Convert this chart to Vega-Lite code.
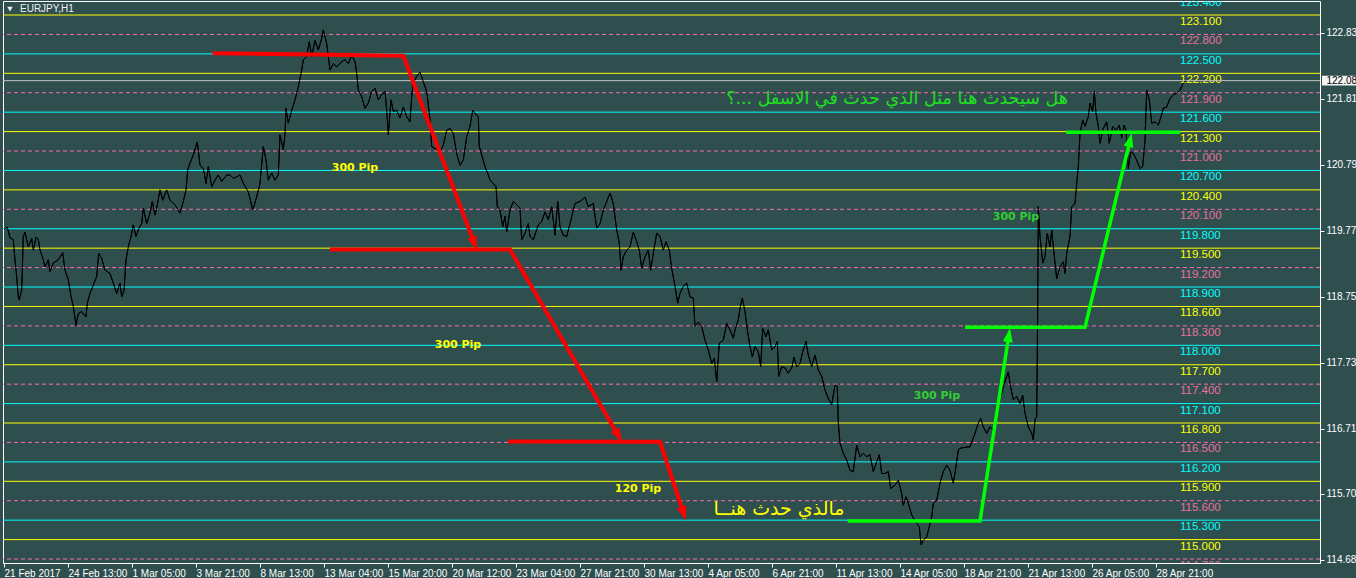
{
  "$schema": "https://vega.github.io/schema/vega-lite/v6.json",
  "width": 1317,
  "height": 562,
  "autosize": {"type": "none"},
  "padding": {"left": 3, "top": 1, "right": 36, "bottom": 15},
  "background": "#2F4F4F",
  "config": {"view": {"stroke": "#FFFFFF", "strokeWidth": 1}, "font": "Liberation Sans"},
  "datasets": {
    "price": [
      {"i":0,"p":119.79},{"i":3.3,"p":119.82},{"i":6,"p":119.66},{"i":9.3,"p":119.63},{"i":11,"p":119.32},{"i":12.7,"p":119.06},{"i":14.3,"p":118.75},{"i":15.3,"p":118.70},{"i":17.7,"p":118.85},{"i":19.3,"p":119.68},{"i":21,"p":119.75},{"i":24.3,"p":119.52},{"i":27.7,"p":119.65},{"i":29.3,"p":119.47},{"i":32,"p":119.67},{"i":34.3,"p":119.63},{"i":36,"p":119.47},{"i":39.3,"p":119.32},{"i":41,"p":119.21},{"i":44.3,"p":119.32},{"i":46,"p":119.14},{"i":49.3,"p":119.27},{"i":54.3,"p":119.32},{"i":58.7,"p":119.43},{"i":61,"p":119.16},{"i":64.3,"p":119.01},{"i":66.7,"p":118.78},{"i":69.3,"p":118.60},{"i":72,"p":118.31},{"i":74.3,"p":118.49},{"i":77.7,"p":118.52},{"i":82,"p":118.44},{"i":83.3,"p":118.65},{"i":86,"p":118.80},{"i":89.3,"p":118.93},{"i":92.7,"p":119.06},{"i":94.7,"p":119.42},{"i":97.7,"p":119.34},{"i":101,"p":119.16},{"i":106,"p":119.11},{"i":109.3,"p":118.96},{"i":112.7,"p":118.80},{"i":116,"p":118.96},{"i":117.7,"p":118.75},{"i":120,"p":118.85},{"i":122,"p":119.32},{"i":124.3,"p":119.52},{"i":127,"p":119.68},{"i":129.3,"p":119.86},{"i":132,"p":119.68},{"i":135.3,"p":119.82},{"i":137.7,"p":119.88},{"i":139.3,"p":120.12},{"i":142.7,"p":119.88},{"i":146,"p":120.04},{"i":148.3,"p":120.22},{"i":151,"p":120.01},{"i":152.7,"p":120.12},{"i":156,"p":120.40},{"i":158.7,"p":120.24},{"i":162.7,"p":120.40},{"i":166,"p":120.24},{"i":171,"p":120.17},{"i":176,"p":120.04},{"i":179.3,"p":120.22},{"i":182,"p":120.40},{"i":183.7,"p":120.71},{"i":186,"p":120.81},{"i":189.3,"p":120.94},{"i":193.3,"p":121.14},{"i":196,"p":120.78},{"i":199.3,"p":120.73},{"i":202,"p":120.50},{"i":204.3,"p":120.76},{"i":207.7,"p":120.45},{"i":211,"p":120.55},{"i":214.3,"p":120.63},{"i":217.7,"p":120.53},{"i":222.7,"p":120.63},{"i":226,"p":120.63},
      {"i":229.3,"p":120.58},{"i":232.7,"p":120.60},{"i":236,"p":120.63},{"i":239.3,"p":120.50},{"i":244.3,"p":120.37},{"i":248.7,"p":120.09},{"i":252.7,"p":120.29},{"i":256,"p":120.50},{"i":259.3,"p":121.07},{"i":262,"p":120.86},{"i":264.3,"p":120.55},{"i":267.7,"p":120.66},{"i":271,"p":120.55},{"i":274.3,"p":120.63},{"i":276,"p":121.25},{"i":279.3,"p":121.02},{"i":281,"p":121.27},{"i":282,"p":121.66},{"i":284.3,"p":121.43},{"i":287.7,"p":121.63},{"i":291,"p":121.79},{"i":294.3,"p":121.99},{"i":297.7,"p":122.25},{"i":299.3,"p":122.41},{"i":302.7,"p":122.46},{"i":305.3,"p":122.69},{"i":307.7,"p":122.46},{"i":311,"p":122.71},{"i":314.3,"p":122.56},{"i":317.7,"p":122.74},{"i":319.3,"p":122.87},{"i":322.7,"p":122.66},{"i":326,"p":122.25},{"i":329.3,"p":122.35},{"i":332.7,"p":122.30},{"i":337.7,"p":122.38},{"i":341,"p":122.41},{"i":344.3,"p":122.35},{"i":347.7,"p":122.48},{"i":351,"p":122.38},{"i":352.7,"p":122.20},{"i":354.3,"p":121.94},{"i":357.7,"p":121.84},{"i":361,"p":121.66},{"i":364.3,"p":121.74},{"i":367.7,"p":121.92},{"i":371,"p":121.97},{"i":374.3,"p":121.79},{"i":377.7,"p":121.87},{"i":381,"p":121.92},{"i":382.7,"p":121.63},{"i":384.3,"p":121.25},{"i":387,"p":121.79},{"i":389.3,"p":121.61},{"i":392.7,"p":121.63},{"i":396,"p":121.51},{"i":399.3,"p":121.68},{"i":402.7,"p":121.53},{"i":406,"p":121.45},{"i":407.7,"p":121.84},{"i":409.3,"p":122.05},{"i":412.7,"p":122.15},{"i":416,"p":122.22},{"i":419.3,"p":122.07},{"i":422.7,"p":121.92},{"i":426,"p":121.48},{"i":427.7,"p":121.07},{"i":432.7,"p":121.02},{"i":436,"p":120.99},{"i":439.3,"p":121.09},{"i":442.7,"p":121.32},{"i":446,"p":121.35},{"i":449.3,"p":121.27},{"i":452.7,"p":120.96},{"i":456,"p":120.78},{"i":459.3,"p":120.86},{"i":462.7,"p":121.22},{"i":466,"p":121.38},{"i":468.7,"p":121.63},{"i":471,"p":121.58},{"i":474.3,"p":121.53},{"i":475.3,"p":121.07},{"i":477.7,"p":120.94},{"i":481,"p":120.76},
      {"i":484.3,"p":120.63},{"i":486,"p":120.55},{"i":489.3,"p":120.50},{"i":492,"p":120.45},{"i":493.3,"p":120.14},{"i":496,"p":120.09},{"i":498.7,"p":119.83},{"i":501,"p":119.99},{"i":502.7,"p":119.75},{"i":506,"p":120.09},{"i":509.3,"p":120.22},{"i":512.7,"p":120.17},{"i":516,"p":120.12},{"i":517.7,"p":119.63},{"i":521,"p":119.73},{"i":524.3,"p":119.88},{"i":526,"p":119.68},{"i":529.3,"p":119.63},{"i":534.3,"p":119.86},{"i":537.7,"p":119.91},{"i":541,"p":120.06},{"i":544.3,"p":119.94},{"i":547.7,"p":120.14},{"i":551,"p":119.70},{"i":553.7,"p":120.22},{"i":556,"p":119.83},{"i":559.3,"p":119.70},{"i":562.7,"p":119.68},{"i":566,"p":119.88},{"i":571,"p":120.19},{"i":576,"p":120.22},{"i":581,"p":120.29},{"i":584.3,"p":120.14},{"i":589.3,"p":120.19},{"i":592.7,"p":119.81},{"i":596,"p":119.88},{"i":599.3,"p":120.09},{"i":602.7,"p":120.22},{"i":606,"p":120.35},{"i":609.3,"p":120.19},{"i":612.7,"p":119.78},{"i":615.3,"p":119.58},{"i":617,"p":119.16},{"i":619.3,"p":119.37},{"i":622.7,"p":119.47},{"i":626,"p":119.52},{"i":629.3,"p":119.75},{"i":632.7,"p":119.60},{"i":635.3,"p":119.47},{"i":637.7,"p":119.19},{"i":641,"p":119.37},{"i":644.3,"p":119.47},{"i":646.7,"p":119.16},{"i":649.3,"p":119.42},{"i":652.7,"p":119.73},{"i":656,"p":119.68},{"i":659.3,"p":119.47},{"i":662,"p":119.60},{"i":665.3,"p":119.47},{"i":667.7,"p":119.19},{"i":671,"p":118.91},{"i":673.7,"p":118.65},{"i":676,"p":118.80},{"i":679.3,"p":118.91},{"i":682.7,"p":118.96},{"i":686,"p":118.75},{"i":689.3,"p":118.73},{"i":691,"p":118.29},{"i":694.3,"p":118.36},{"i":697.7,"p":118.29},{"i":701,"p":118.08},{"i":704.3,"p":117.93},{"i":707.7,"p":117.72},{"i":710.3,"p":117.80},{"i":712.7,"p":117.44},{"i":715.3,"p":118.03},
      {"i":719.3,"p":118.08},{"i":722.7,"p":118.34},{"i":726,"p":118.24},{"i":729.3,"p":118.11},{"i":731,"p":118.24},{"i":734.3,"p":118.39},{"i":736,"p":118.57},{"i":738.3,"p":118.73},{"i":741,"p":118.52},{"i":743.3,"p":118.24},{"i":746,"p":117.98},{"i":748.3,"p":117.82},{"i":751,"p":117.98},{"i":754.3,"p":117.90},{"i":756.7,"p":117.67},{"i":758.7,"p":118.26},{"i":762,"p":118.13},{"i":764.3,"p":118.24},{"i":767.7,"p":117.93},{"i":771,"p":117.98},{"i":773.3,"p":118.06},{"i":774.7,"p":117.52},{"i":777.7,"p":117.67},{"i":781,"p":117.65},{"i":784.3,"p":117.57},{"i":787.7,"p":117.65},{"i":790,"p":117.82},{"i":792.7,"p":117.67},{"i":796,"p":117.72},{"i":798.7,"p":117.90},{"i":802,"p":118.06},{"i":804.3,"p":117.85},{"i":807.7,"p":117.67},{"i":811,"p":117.85},{"i":814.3,"p":117.62},{"i":817.7,"p":117.52},{"i":821,"p":117.31},{"i":824.3,"p":117.18},{"i":827.7,"p":117.08},{"i":831,"p":117.39},{"i":833.3,"p":117.36},{"i":834.3,"p":116.80},{"i":836,"p":116.49},{"i":839.3,"p":116.33},{"i":842.7,"p":116.23},{"i":846,"p":116.07},{"i":849.3,"p":116.05},{"i":852.7,"p":116.46},{"i":856,"p":116.28},{"i":859.3,"p":116.33},{"i":862.7,"p":116.28},{"i":866,"p":116.31},{"i":869.3,"p":116.05},{"i":872.7,"p":116.20},{"i":875.3,"p":116.31},{"i":877.7,"p":116.02},{"i":881,"p":116.02},{"i":884.3,"p":116.05},{"i":886.7,"p":115.79},{"i":891,"p":115.84},{"i":894.3,"p":115.92},{"i":897.7,"p":115.71},{"i":899.3,"p":115.53},{"i":902,"p":115.66},{"i":904.3,"p":115.56},{"i":907.7,"p":115.38},{"i":912.7,"p":115.25},{"i":915.3,"p":115.20},{"i":917,"p":114.92},{"i":919.3,"p":114.99},{"i":922.7,"p":115.04},{"i":925.3,"p":115.20},{"i":927.7,"p":115.35},{"i":929.3,"p":115.56},{"i":932.7,"p":115.61},{"i":936,"p":115.87},{"i":939.3,"p":116.05},{"i":942.7,"p":116.15},{"i":946,"p":116.07},{"i":949.3,"p":115.87},{"i":952,"p":116.13},{"i":954.3,"p":116.38},
      {"i":956,"p":116.41},{"i":962.7,"p":116.43},{"i":966,"p":116.43},{"i":971,"p":116.64},{"i":974.3,"p":116.80},{"i":976.7,"p":116.87},{"i":979.3,"p":116.74},{"i":982.7,"p":116.64},{"i":986,"p":116.74},{"i":989.3,"p":116.69},{"i":992.7,"p":116.85},{"i":996,"p":117.16},{"i":999.3,"p":117.36},{"i":1002.7,"p":117.52},{"i":1004.3,"p":117.59},{"i":1006,"p":117.41},{"i":1009.3,"p":117.16},{"i":1012.7,"p":117.21},{"i":1016,"p":117.10},{"i":1018.7,"p":117.23},{"i":1021,"p":116.95},{"i":1024.3,"p":116.74},{"i":1027.7,"p":116.64},{"i":1029.3,"p":116.54},{"i":1031,"p":116.85},{"i":1032.7,"p":116.90},{"i":1033.7,"p":118.55},{"i":1034.3,"p":120.14},{"i":1036,"p":119.68},{"i":1038.7,"p":119.27},{"i":1041,"p":119.37},{"i":1043.3,"p":119.73},{"i":1046,"p":119.52},{"i":1047.7,"p":119.78},{"i":1050,"p":119.42},{"i":1052.7,"p":119.03},{"i":1056,"p":119.21},{"i":1059.3,"p":119.29},{"i":1061,"p":119.11},{"i":1062.7,"p":119.42},{"i":1066,"p":119.68},{"i":1067.7,"p":120.14},{"i":1071,"p":120.19},{"i":1072.7,"p":120.50},{"i":1074.3,"p":120.76},{"i":1076,"p":121.27},{"i":1078.7,"p":121.48},{"i":1081,"p":121.38},{"i":1084.3,"p":121.53},{"i":1086,"p":121.74},{"i":1088.7,"p":121.61},{"i":1090.3,"p":121.92},{"i":1092,"p":121.58},{"i":1094.3,"p":121.38},{"i":1096,"p":121.12},{"i":1099.3,"p":121.35},{"i":1102.7,"p":121.45},{"i":1105.3,"p":121.12},{"i":1108.7,"p":121.38},{"i":1112,"p":121.32},{"i":1115.3,"p":121.40},{"i":1117.7,"p":121.20},{"i":1120,"p":121.40},{"i":1122,"p":121.32},{"i":1124.3,"p":120.73},{"i":1126.7,"p":120.99},{"i":1129.3,"p":120.96},{"i":1132.7,"p":120.86},{"i":1136,"p":120.73},{"i":1138.7,"p":120.76},{"i":1141,"p":121.17},{"i":1142.7,"p":121.94},{"i":1145.3,"p":121.79},{"i":1147.7,"p":121.43},{"i":1151,"p":121.45},{"i":1154.3,"p":121.40},{"i":1157,"p":121.53},{"i":1159.3,"p":121.66},{"i":1162.7,"p":121.68},{"i":1166,"p":121.81},{"i":1169.3,"p":121.87},{"i":1172.7,"p":121.89},{"i":1176,"p":121.94},{"i":1179.3,"p":122.05},{"i":1182,"p":122.087}
    ],
    "levels": [
      {"p":123.1,"k":"y"},{"p":122.2,"k":"y"},{"p":121.3,"k":"y"},{"p":120.4,"k":"y"},{"p":119.5,"k":"y"},{"p":118.6,"k":"y"},{"p":117.7,"k":"y"},{"p":116.8,"k":"y"},{"p":115.9,"k":"y"},{"p":115.0,"k":"y"},
      {"p":123.4,"k":"c"},{"p":122.5,"k":"c"},{"p":121.6,"k":"c"},{"p":120.7,"k":"c"},{"p":119.8,"k":"c"},{"p":118.9,"k":"c"},{"p":118.0,"k":"c"},{"p":117.1,"k":"c"},{"p":116.2,"k":"c"},{"p":115.3,"k":"c"},
      {"p":122.8,"k":"m"},{"p":121.9,"k":"m"},{"p":121.0,"k":"m"},{"p":120.1,"k":"m"},{"p":119.2,"k":"m"},{"p":118.3,"k":"m"},{"p":117.4,"k":"m"},{"p":116.5,"k":"m"},{"p":115.6,"k":"m"},{"p":114.7,"k":"m"}
    ],
    "arrows": [
      {"c":"red","g":"r1","o":0,"i":208.7,"p":122.51},{"c":"red","g":"r1","o":1,"i":399.3,"p":122.47},{"c":"red","g":"r1","o":2,"i":470.5,"p":119.57},
      {"c":"red","g":"r2","o":0,"i":326,"p":119.48},{"c":"red","g":"r2","o":1,"i":506,"p":119.48},{"c":"red","g":"r2","o":2,"i":614.5,"p":116.60},
      {"c":"red","g":"r3","o":0,"i":504,"p":116.515},{"c":"red","g":"r3","o":1,"i":656,"p":116.51},{"c":"red","g":"r3","o":2,"i":679.8,"p":115.40},
      {"c":"green","g":"g1","o":0,"i":843.7,"p":115.287},{"c":"green","g":"g1","o":1,"i":976,"p":115.287},{"c":"green","g":"g1","o":2,"i":1004.9,"p":118.16},
      {"c":"green","g":"g2","o":0,"i":961,"p":118.278},{"c":"green","g":"g2","o":1,"i":1081,"p":118.278},{"c":"green","g":"g2","o":2,"i":1126.1,"p":121.17},
      {"c":"green","g":"g3","o":0,"i":1062,"p":121.289},{"c":"green","g":"g3","o":1,"i":1176,"p":121.289}
    ],
    "notes": [
      {"t":"300 Pip","i":351,"p":120.738,"k":"pipY"},
      {"t":"300 Pip","i":454,"p":118.005,"k":"pipY"},
      {"t":"120 Pip","i":634,"p":115.781,"k":"pipY"},
      {"t":"300  Pip","i":933,"p":117.217,"k":"pipG"},
      {"t":"300 Pip","i":1012,"p":119.981,"k":"pipG"},
      {"t":"مالذي حدث هنــا","i":775,"p":115.472,"k":"arY"},
      {"t":"هل سيحدث هنا مثل الذي حدث في الاسفل ...؟","i":893,"p":121.803,"k":"arG"}
    ],
    "one": [{"n": 1}]
  },
  "layer": [
    {
      "data": {"name": "price"},
      "mark": {"type": "line", "color": "#000000", "strokeWidth": 1, "clip": true},
      "encoding": {
        "x": {"field": "i", "type": "quantitative", "title": null,
          "scale": {"domain": [-1, 1316], "nice": false, "zero": false},
          "axis": {"values": [0,64,128,192,256,320,384,448,512,576,640,704,768,832,896,960,1024,1088,1152],
            "labelExpr": "['21 Feb 2017','24 Feb 13:00','1 Mar 05:00','3 Mar 21:00','8 Mar 13:00','13 Mar 04:00','15 Mar 20:00','20 Mar 12:00','23 Mar 04:00','27 Mar 21:00','30 Mar 13:00','4 Apr 05:00','6 Apr 21:00','11 Apr 13:00','14 Apr 05:00','18 Apr 21:00','21 Apr 13:00','26 Apr 05:00','28 Apr 21:00'][round(datum.value/64)]",
            "labelAlign": "left", "labelBaseline": "top", "labelPadding": 1, "labelColor": "#FFFFFF",
            "labelFont": "Liberation Sans", "labelFontSize": 10, "tickColor": "#FFFFFF", "tickSize": 4,
            "domain": false, "grid": false, "labelFlush": false, "labelOverlap": false, "labelBound": false}},
        "y": {"field": "p", "type": "quantitative", "title": null,
          "scale": {"domain": [114.6386, 123.3166], "nice": false, "zero": false},
          "axis": {"orient": "right",
            "values": [114.685,115.195,115.705,116.215,116.71,117.22,117.73,118.24,118.75,119.26,119.77,120.28,120.79,121.3,121.81,122.32,122.83],
            "format": ".3f", "labelColor": "#FFFFFF", "labelFont": "Liberation Sans", "labelFontSize": 10,
            "tickColor": "#FFFFFF", "tickSize": 4, "labelPadding": 2, "domain": false, "grid": false,
            "labelFlush": false, "labelOverlap": false, "labelBound": false}}
      }
    },
    {
      "data": {"name": "levels"},
      "transform": [{"filter": "datum.k === 'y'"}],
      "mark": {"type": "rule", "color": "#FFFF00", "strokeWidth": 1, "clip": true},
      "encoding": {"y": {"field": "p", "type": "quantitative", "title": null}}
    },
    {
      "data": {"name": "levels"},
      "transform": [{"filter": "datum.k === 'c'"}],
      "mark": {"type": "rule", "color": "#00FFFF", "strokeWidth": 1, "clip": true},
      "encoding": {"y": {"field": "p", "type": "quantitative", "title": null}}
    },
    {
      "data": {"name": "levels"},
      "transform": [{"filter": "datum.k === 'm'"}],
      "mark": {"type": "rule", "color": "#FF69B4", "strokeWidth": 1, "strokeDash": [4, 3], "clip": true},
      "encoding": {"y": {"field": "p", "type": "quantitative", "title": null}}
    },
    {
      "data": {"name": "levels"},
      "mark": {"type": "text", "align": "left", "baseline": "middle", "dy": 7, "font": "Liberation Sans", "fontSize": 11.5, "clip": true},
      "encoding": {
        "x": {"datum": 1176, "title": null},
        "y": {"field": "p", "type": "quantitative", "title": null},
        "text": {"field": "p", "type": "quantitative", "format": ".3f"},
        "color": {"field": "k", "type": "nominal", "legend": null,
          "scale": {"domain": ["y", "c", "m"], "range": ["#FFFF00", "#00FFFF", "#E8709C"]}}
      }
    },
    {
      "data": {"values": [{"p": 122.087}]},
      "mark": {"type": "rule", "color": "#C0C0C0", "strokeWidth": 1},
      "encoding": {"y": {"field": "p", "type": "quantitative", "title": null}}
    },
    {
      "data": {"name": "price"},
      "mark": {"type": "line", "color": "#000000", "strokeWidth": 1, "clip": true},
      "encoding": {
        "x": {"field": "i", "type": "quantitative", "title": null},
        "y": {"field": "p", "type": "quantitative", "title": null}
      }
    },
    {
      "data": {"name": "arrows"},
      "transform": [{"filter": "datum.c === 'red'"}],
      "mark": {"type": "line", "color": "#FF0000", "strokeWidth": 4, "strokeJoin": "miter"},
      "encoding": {
        "x": {"field": "i", "type": "quantitative", "title": null},
        "y": {"field": "p", "type": "quantitative", "title": null},
        "detail": {"field": "g"},
        "order": {"field": "o"}
      }
    },
    {
      "data": {"name": "arrows"},
      "transform": [{"filter": "datum.c === 'green'"}],
      "mark": {"type": "line", "color": "#00FF00", "strokeWidth": 3.5, "strokeJoin": "miter"},
      "encoding": {
        "x": {"field": "i", "type": "quantitative", "title": null},
        "y": {"field": "p", "type": "quantitative", "title": null},
        "detail": {"field": "g"},
        "order": {"field": "o"}
      }
    },
    {
      "data": {"name": "one"},
      "mark": {"type": "point", "shape": "M0,-1L0.7,1L-0.7,1Z", "filled": true, "color": "#FF0000", "opacity": 1, "size": 200, "angle": 159.2},
      "encoding": {"x": {"datum": 470.5, "title": null}, "y": {"datum": 119.57, "title": null}}
    },
    {
      "data": {"name": "one"},
      "mark": {"type": "point", "shape": "M0,-1L0.7,1L-0.7,1Z", "filled": true, "color": "#FF0000", "opacity": 1, "size": 200, "angle": 149.8},
      "encoding": {"x": {"datum": 614.5, "title": null}, "y": {"datum": 116.60, "title": null}}
    },
    {
      "data": {"name": "one"},
      "mark": {"type": "point", "shape": "M0,-1L0.7,1L-0.7,1Z", "filled": true, "color": "#FF0000", "opacity": 1, "size": 200, "angle": 161.6},
      "encoding": {"x": {"datum": 679.8, "title": null}, "y": {"datum": 115.40, "title": null}}
    },
    {
      "data": {"name": "one"},
      "mark": {"type": "point", "shape": "M0,-1L0.7,1L-0.7,1Z", "filled": true, "color": "#00FF00", "opacity": 1, "size": 200, "angle": 8.9},
      "encoding": {"x": {"datum": 1004.9, "title": null}, "y": {"datum": 118.16, "title": null}}
    },
    {
      "data": {"name": "one"},
      "mark": {"type": "point", "shape": "M0,-1L0.7,1L-0.7,1Z", "filled": true, "color": "#00FF00", "opacity": 1, "size": 200, "angle": 13.5},
      "encoding": {"x": {"datum": 1126.1, "title": null}, "y": {"datum": 121.17, "title": null}}
    },
    {
      "data": {"name": "notes"},
      "transform": [{"filter": "datum.k === 'pipY'"}],
      "mark": {"type": "text", "align": "center", "baseline": "middle", "font": "DejaVu Sans", "fontWeight": "bold", "fontSize": 11, "color": "#FFFF00"},
      "encoding": {
        "x": {"field": "i", "type": "quantitative", "title": null},
        "y": {"field": "p", "type": "quantitative", "title": null},
        "text": {"field": "t"}
      }
    },
    {
      "data": {"name": "notes"},
      "transform": [{"filter": "datum.k === 'pipG'"}],
      "mark": {"type": "text", "align": "center", "baseline": "middle", "font": "DejaVu Sans", "fontWeight": "bold", "fontSize": 11, "color": "#32CD32"},
      "encoding": {
        "x": {"field": "i", "type": "quantitative", "title": null},
        "y": {"field": "p", "type": "quantitative", "title": null},
        "text": {"field": "t"}
      }
    },
    {
      "data": {"name": "notes"},
      "transform": [{"filter": "datum.k === 'arY'"}],
      "mark": {"type": "text", "align": "center", "baseline": "middle", "font": "DejaVu Sans", "fontSize": 19, "color": "#FFFF00"},
      "encoding": {
        "x": {"field": "i", "type": "quantitative", "title": null},
        "y": {"field": "p", "type": "quantitative", "title": null},
        "text": {"field": "t"}
      }
    },
    {
      "data": {"name": "notes"},
      "transform": [{"filter": "datum.k === 'arG'"}],
      "mark": {"type": "text", "align": "center", "baseline": "middle", "font": "DejaVu Sans", "fontSize": 17.5, "color": "#1EE01E"},
      "encoding": {
        "x": {"field": "i", "type": "quantitative", "title": null},
        "y": {"field": "p", "type": "quantitative", "title": null},
        "text": {"field": "t"}
      }
    },
    {
      "data": {"name": "one"},
      "mark": {"type": "point", "shape": "triangle-down", "filled": true, "color": "#F0F0F0", "opacity": 1, "size": 30},
      "encoding": {"x": {"datum": 6, "title": null}, "y": {"datum": 123.19, "title": null}}
    },
    {
      "data": {"name": "one"},
      "mark": {"type": "text", "align": "left", "baseline": "middle", "font": "Liberation Sans", "fontSize": 10, "color": "#F0F0F0", "text": "EURJPY,H1"},
      "encoding": {"x": {"datum": 16, "title": null}, "y": {"datum": 123.19, "title": null}}
    },
    {
      "data": {"name": "one"},
      "mark": {"type": "rect", "color": "#F4F4F4"},
      "encoding": {"x": {"datum": 1318, "title": null}, "x2": {"datum": 1356}, "y": {"datum": 122.164, "title": null}, "y2": {"datum": 122.01}}
    },
    {
      "data": {"name": "one"},
      "mark": {"type": "text", "align": "left", "baseline": "middle", "font": "Liberation Sans", "fontSize": 10, "color": "#000000", "text": "122.087"},
      "encoding": {"x": {"datum": 1322.5, "title": null}, "y": {"datum": 122.087, "title": null}}
    }
  ]
}
